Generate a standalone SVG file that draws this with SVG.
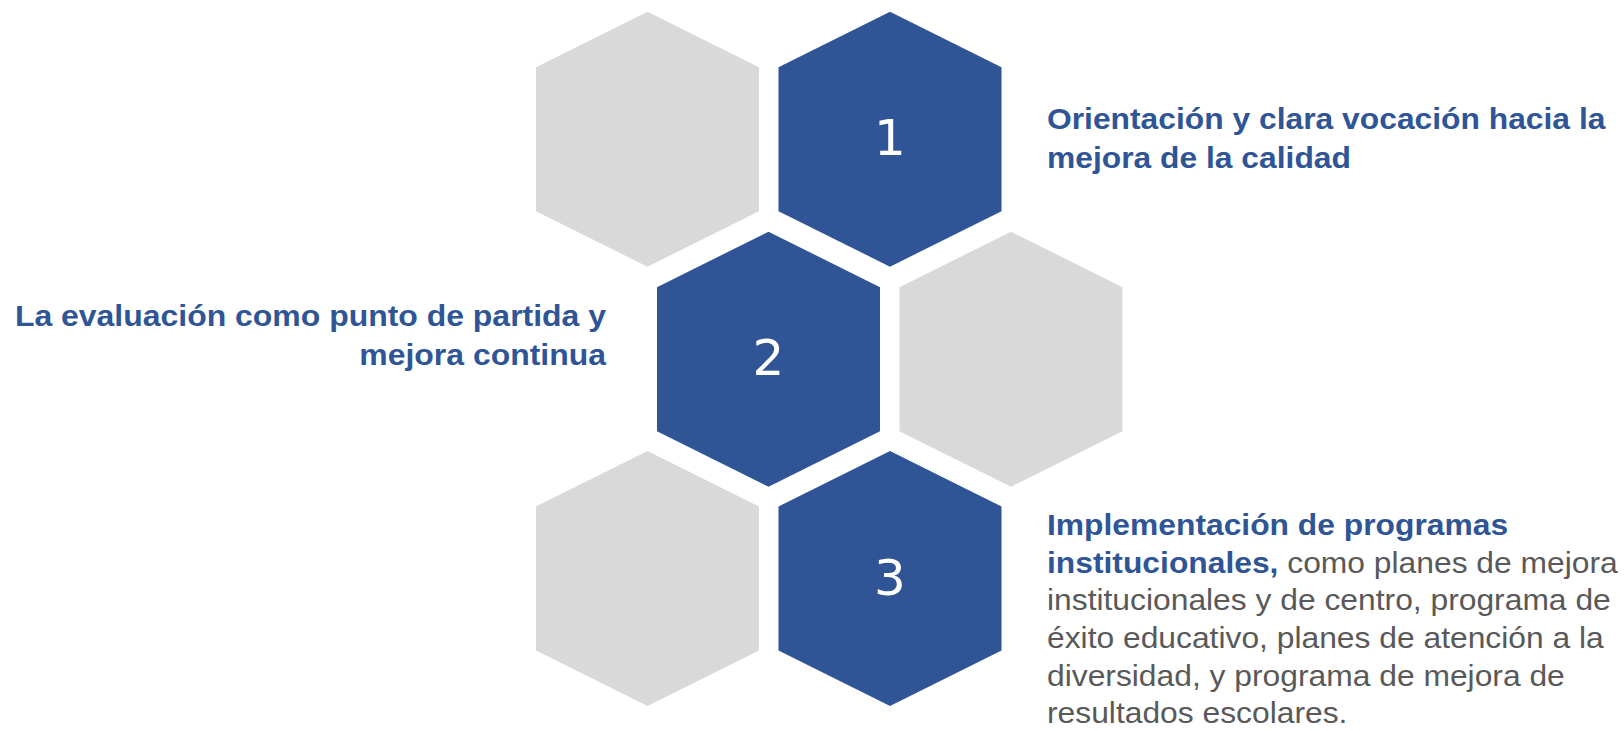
<svg xmlns="http://www.w3.org/2000/svg" width="1624" height="731" viewBox="0 0 1624 731">
<defs>
<style>
.blue{fill:#2F5597}
.gray{fill:#D9D9D9}
.num{font-family:"DejaVu Sans","Open Sans",sans-serif;font-size:50px;fill:#FFFFFF;text-anchor:middle}
.t{font-family:"Liberation Sans",Arial,sans-serif;font-size:30px}
.b{font-weight:bold;fill:#2F5597}
.g{fill:#595959}
</style>
<polygon id="hex" points="0,-127.5 111.5,-72 111.5,72 0,127.5 -111.5,72 -111.5,-72"/>
</defs>
<rect width="1624" height="731" fill="#FFFFFF"/>
<g id="connectors"/>
<g id="hex-gray-1"><use href="#hex" class="gray" x="647.5" y="139.2"/></g>
<g id="hex-1"><use href="#hex" class="blue" x="890" y="139.2"/><text class="num" x="890" y="155">1</text></g>
<g id="hex-2"><use href="#hex" class="blue" x="768.5" y="359.2"/><text class="num" x="768.5" y="375">2</text></g>
<g id="hex-gray-2"><use href="#hex" class="gray" x="1011" y="359.2"/></g>
<g id="hex-gray-3"><use href="#hex" class="gray" x="647.5" y="578.5"/></g>
<g id="hex-3"><use href="#hex" class="blue" x="890" y="578.5"/><text class="num" x="890" y="595">3</text></g>
<g id="label-1" transform="translate(1047,0) scale(1.06,1)">
<text class="t b" x="0" y="129">Orientación y clara vocación hacia la</text>
<text class="t b" x="0" y="167.7">mejora de la calidad</text>
</g>
<g id="label-2" transform="translate(606,0) scale(1.065,1)">
<text class="t b" x="0" y="326" text-anchor="end">La evaluación como punto de partida y</text>
<text class="t b" x="0" y="364.7" text-anchor="end">mejora continua</text>
</g>
<g id="label-3" transform="translate(1047,0) scale(1.06,1)">
<text class="t b" x="0" y="535">Implementación de programas</text>
<text class="t" x="0" y="572.7"><tspan class="b">institucionales,</tspan><tspan class="g"> como planes de mejora</tspan></text>
<text class="t g" x="0" y="610.4">institucionales y de centro, programa de</text>
<text class="t g" x="0" y="648.1">éxito educativo, planes de atención a la</text>
<text class="t g" x="0" y="685.8">diversidad, y programa de mejora de</text>
<text class="t g" x="0" y="723.5">resultados escolares.</text>
</g>
</svg>
